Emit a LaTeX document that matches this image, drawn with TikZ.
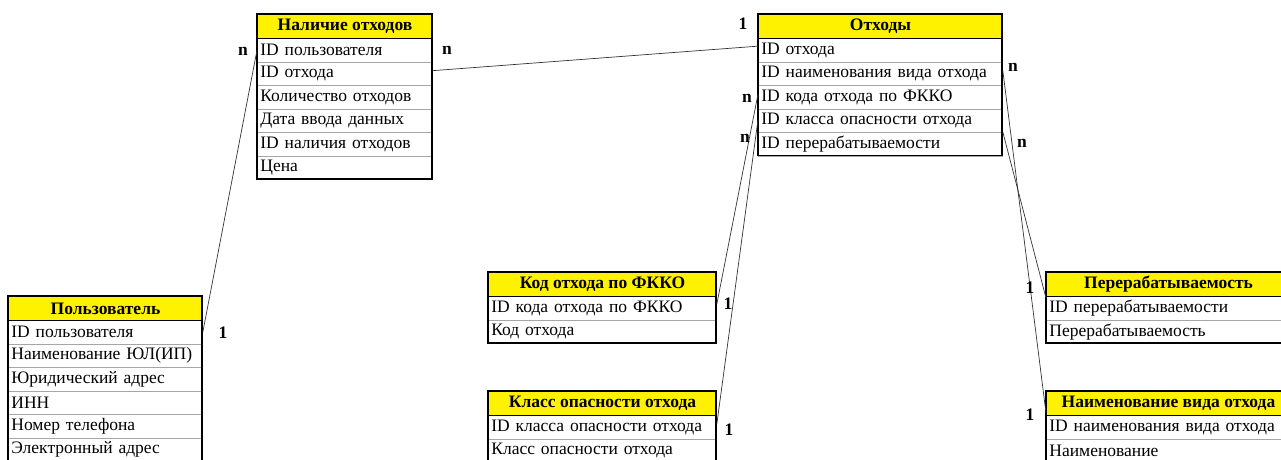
\documentclass[tikz,border=0pt]{standalone}
\usepackage{fontspec}
\setmainfont{Liberation Serif}
\newcommand\erdsize{\fontsize{17.5}{19}\selectfont}
\tikzset{
  hdr/.style={draw=black, line width=1pt, fill=yellow, font=\erdsize\bfseries, anchor=north west,
    minimum height=24pt, inner sep=0pt},
  fieldrow/.style={draw=gray!70, line width=0.8pt, anchor=north west, minimum height=23.5pt,
    inner xsep=3pt, inner ysep=0pt, align=left, font=\erdsize},
  frame/.style={draw=black, line width=1.3pt},
  link/.style={draw=black!80, line width=0.7pt},
  card/.style={font=\erdsize\bfseries, inner sep=0pt},
}
% name, x, y, width, number of rows, header, rows
\newcommand\erdtable[7]{%
  \foreach \t [count=\i] in {#7} {
    \node[fieldrow, text width=#4pt-6pt] (#1-\i) at (#2,{#3+24+(\i-1)*23.5}) {\t};
  }
  \node[hdr, minimum width=#4pt] (#1-h) at (#2,#3) {#6};
  \draw[frame] (#2,#3) rectangle ({#2+#4},{#3+24+#5*23.5});
}
\begin{document}
\begin{tikzpicture}[x=1pt, y=-1pt]
\useasboundingbox (0,0) rectangle (1281,459);
\clip (0,0) rectangle (1281,459);
\erdtable{nal}{257}{14}{175}{6}{Наличие отходов}{ID пользователя,ID отхода,Количество отходов,Дата ввода данных,ID наличия отходов,Цена}
\erdtable{otx}{758}{14}{244}{5}{Отходы}{ID отхода,ID наименования вида отхода,ID кода отхода по ФККО,ID класса опасности отхода,ID перерабатываемости}
\erdtable{pol}{8}{296}{194}{6}{Пользователь}{ID пользователя,Наименование ЮЛ(ИП),Юридический адрес,ИНН,Номер телефона,Электронный адрес}
\erdtable{kod}{488}{272}{228}{2}{Код отхода по ФККО}{ID кода отхода по ФККО,Код отхода}
\erdtable{kls}{488}{391}{228}{2}{Класс опасности отхода}{ID класса опасности отхода,Класс опасности отхода}
\erdtable{per}{1046}{272}{244}{2}{Перерабатываемость}{ID перерабатываемости,Перерабатываемость}
\erdtable{nvo}{1046}{391}{244}{2}{Наименование вида отхода}{ID наименования вида отхода,Наименование}

\draw[link] (pol-1.east) -- (nal-1.west);
\draw[link] ([yshift=3pt]nal-2.east) -- ([yshift=4pt]otx-1.west);
\draw[link] ([yshift=3pt]otx-3.west) -- ([yshift=4pt]kod-1.east);
\draw[link] ([yshift=1pt]otx-4.west) -- ([yshift=3pt]kls-1.east);
\draw[link] ([yshift=3pt]otx-2.east) -- ([yshift=2pt]nvo-1.north west);
\draw[link] (otx-5.north east) -- ([yshift=-2pt]per-1.north west);

\node[card] (c1) at (243,51) {n};
\node[card] (c2) at (447,50) {n};
\node[card] (c3) at (743,24) {1};
\node[card] (c4) at (747,98) {n};
\node[card] (c5) at (745,138) {n};
\node[card] (c6) at (1013,67) {n};
\node[card] (c7) at (1022,143) {n};
\node[card] (c8) at (223,333) {1};
\node[card] (c9) at (728,304) {1};
\node[card] (c10) at (729,430) {1};
\node[card] (c11) at (1030,288) {1};
\node[card] (c12) at (1030,415) {1};
\end{tikzpicture}
\end{document}
